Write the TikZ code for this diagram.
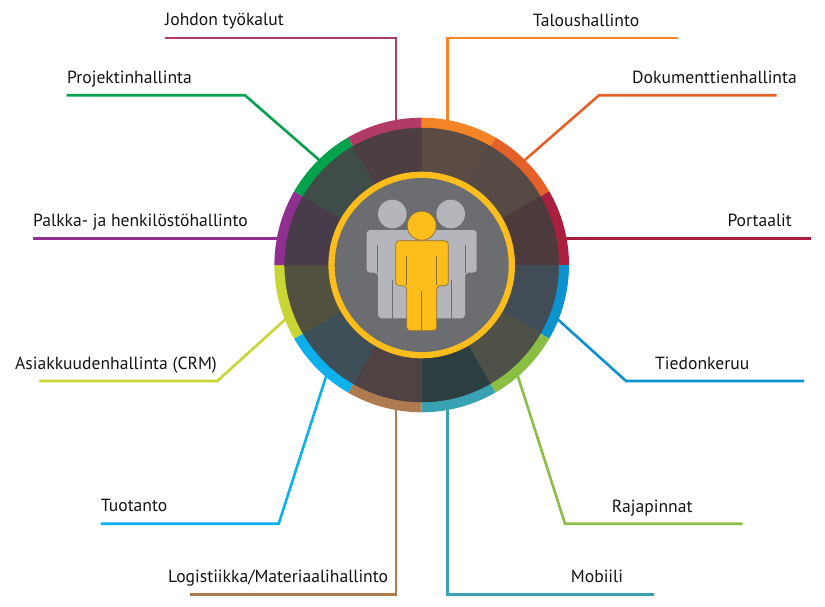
\documentclass[tikz,border=0pt]{standalone}
\usepackage{fontspec}
\setmainfont{PT Sans}
\definecolor{cJoh}{HTML}{B23A66}
\definecolor{cTal}{HTML}{F58426}
\definecolor{cDok}{HTML}{E4622A}
\definecolor{cPor}{HTML}{A91F40}
\definecolor{cTie}{HTML}{0B92CF}
\definecolor{cRaj}{HTML}{8ABF43}
\definecolor{cMob}{HTML}{3AA1B3}
\definecolor{cLog}{HTML}{AE7B50}
\definecolor{cTuo}{HTML}{0DB0EA}
\definecolor{cAsi}{HTML}{C9D532}
\definecolor{cPal}{HTML}{8F2F8F}
\definecolor{cPro}{HTML}{05A24E}
\definecolor{dJoh}{HTML}{4D3F41}
\definecolor{dTal}{HTML}{5A4C45}
\definecolor{dDok}{HTML}{564A45}
\definecolor{dPor}{HTML}{4D3A3C}
\definecolor{dTie}{HTML}{424C56}
\definecolor{dRaj}{HTML}{4E5148}
\definecolor{dMob}{HTML}{2D3E41}
\definecolor{dLog}{HTML}{4E4342}
\definecolor{dTuo}{HTML}{3E4F58}
\definecolor{dAsi}{HTML}{52503F}
\definecolor{dPal}{HTML}{483C4A}
\definecolor{dPro}{HTML}{404C47}
\definecolor{gold}{HTML}{FDBE1C}
\definecolor{goldline}{HTML}{8E7233}
\definecolor{discgrey}{HTML}{6C6D70}
\definecolor{backman}{HTML}{B5B6BB}
\tikzset{
  lead/.style={line width=2.6pt,line join=miter},
  lbl/.style={anchor=base west,inner sep=0pt,text=black!92,font=\fontsize{17.6}{20}\selectfont},
  manback/.style={fill=backman,rounded corners=3.5pt},
  slitback/.style={draw=discgrey,line width=1pt},
  manfront/.style={fill=gold,draw=goldline,line width=.7pt,rounded corners=3.5pt},
  slitfront/.style={draw=goldline,line width=.7pt},
}
\newcommand{\ringpiece}[3]{%
  \fill[#3] (#1:147.3pt) arc[start angle=#1,end angle=#2,radius=147.3pt] -- (#2:130pt) arc[start angle=#2,end angle=#1,radius=130pt] -- cycle;
}
\newcommand{\darkpiece}[3]{%
  \fill[#3,draw=#3,line width=.5pt] (0,0) -- (#1:137pt) arc[start angle=#1,end angle=#2,radius=137pt] -- cycle;
}
\begin{document}
\begin{tikzpicture}[x=1pt,y=-1pt]
\useasboundingbox (0,0) rectangle (825,607);
% labels
\node[lbl] (tJoh) at (165,26) {Johdon työkalut};
\node[lbl] (tTal) at (532.7,26.5) {Taloushallinto};
\node[lbl] (tDok) at (632,83.3) {Dokumenttienhallinta};
\node[lbl] (tPor) at (727.3,226.7) {Portaalit};
\node[lbl] (tTie) at (655,369) {Tiedonkeruu};
\node[lbl] (tRaj) at (611.7,512) {Rajapinnat};
\node[lbl] (tMob) at (570.7,582) {Mobiili};
\node[lbl] (tLog) at (168,582) {Logistiikka/Materiaalihallinto};
\node[lbl] (tTuo) at (100.7,511) {Tuotanto};
\node[lbl] (tAsi) at (15,369) {Asiakkuudenhallinta (CRM)};
\node[lbl] (tPal) at (33,226.7) {Palkka- ja henkilöstöhallinto};
\node[lbl] (tPro) at (67,83.3) {Projektinhallinta};
% connector ends
\coordinate (hub) at (421.7,265);
\coordinate (aJoh) at (165,38);   \coordinate (bJoh) at (396,38);    \coordinate (eJoh) at (396,125);
\coordinate (aTal) at (678,38);   \coordinate (bTal) at (447.5,38);  \coordinate (eTal) at (447.5,125);
\coordinate (aDok) at (776.7,95.3); \coordinate (bDok) at (599,95.3); \coordinate (eDok) at (522,162.5);
\coordinate (aPor) at (811,238.7); \coordinate (ePor) at (562,238.7);
\coordinate (aTie) at (804,381);  \coordinate (bTie) at (626,381);   \coordinate (eTie) at (554,316);
\coordinate (aRaj) at (742.5,523.7); \coordinate (bRaj) at (565,523.7); \coordinate (eRaj) at (516.5,372);
\coordinate (aMob) at (654,594.7); \coordinate (bMob) at (447.5,594.7); \coordinate (eMob) at (447.5,405);
\coordinate (aLog) at (190,594.7); \coordinate (bLog) at (396,594.7); \coordinate (eLog) at (396,405);
\coordinate (aTuo) at (100.7,523.7); \coordinate (bTuo) at (278.7,523.7); \coordinate (eTuo) at (327.5,372);
\coordinate (aAsi) at (39.3,381); \coordinate (bAsi) at (217.3,381); \coordinate (eAsi) at (289,316);
\coordinate (aPal) at (32.7,238.7); \coordinate (ePal) at (282,238.7);
\coordinate (aPro) at (66.7,95.3); \coordinate (bPro) at (245,95.3); \coordinate (ePro) at (322,162.5);
\draw[lead,cJoh] (aJoh) -- (bJoh) -- (eJoh);
\draw[lead,cTal] (aTal) -- (bTal) -- (eTal);
\draw[lead,cDok] (aDok) -- (bDok) -- (eDok);
\draw[lead,cPor] (aPor) -- (ePor);
\draw[lead,cTie] (aTie) -- (bTie) -- (eTie);
\draw[lead,cRaj] (aRaj) -- (bRaj) -- (eRaj);
\draw[lead,cMob] (aMob) -- (bMob) -- (eMob);
\draw[lead,cLog] (aLog) -- (bLog) -- (eLog);
\draw[lead,cTuo] (aTuo) -- (bTuo) -- (eTuo);
\draw[lead,cAsi] (aAsi) -- (bAsi) -- (eAsi);
\draw[lead,cPal] (aPal) -- (ePal);
\draw[lead,cPro] (aPro) -- (bPro) -- (ePro);
% disc
\begin{scope}[shift={(hub)},x=1pt,y=1pt]
  \ringpiece{60}{90}{cTal}
  \ringpiece{30}{60}{cDok}
  \ringpiece{0}{30}{cPor}
  \ringpiece{-30}{0}{cTie}
  \ringpiece{-60}{-30}{cRaj}
  \ringpiece{-90}{-60}{cMob}
  \ringpiece{-120}{-90}{cLog}
  \ringpiece{-150}{-120}{cTuo}
  \ringpiece{-180}{-150}{cAsi}
  \ringpiece{150}{180}{cPal}
  \ringpiece{120}{150}{cPro}
  \ringpiece{90}{120}{cJoh}
  \darkpiece{60}{90}{dTal}
  \darkpiece{30}{60}{dDok}
  \darkpiece{0}{30}{dPor}
  \darkpiece{-30}{0}{dTie}
  \darkpiece{-60}{-30}{dRaj}
  \darkpiece{-90}{-60}{dMob}
  \darkpiece{-120}{-90}{dLog}
  \darkpiece{-150}{-120}{dTuo}
  \darkpiece{-180}{-150}{dAsi}
  \darkpiece{150}{180}{dPal}
  \darkpiece{120}{150}{dPro}
  \darkpiece{90}{120}{dJoh}
  \fill[gold] (0,0) circle[radius=93.3pt];
  \fill[discgrey] (0,0) circle[radius=87pt];
\end{scope}
% back figures
\fill[backman] (392.3,214) circle[radius=14.3pt];
\fill[backman] (450.7,214) circle[radius=14.3pt];
\fill[manback] (366.7,230) -- (424,230) -- (424,318.3) -- (378,318.3) -- (378,272.7) -- (366.7,272.7) -- cycle;
\fill[manback] (476.7,230) -- (419,230) -- (419,318.3) -- (465,318.3) -- (465,272.7) -- (476.7,272.7) -- cycle;
\draw[slitback] (377.3,245) -- (377.3,273);
\draw[slitback] (465.7,245) -- (465.7,273);
\draw[slitback] (392.3,280) -- (392.3,319);
\draw[slitback] (451,280) -- (451,319);
% front figure
\fill[gold,draw=goldline,line width=.7pt] (421.7,225.7) circle[radius=14.5pt];
\path[manfront] (395.7,240.7) -- (448.3,240.7) -- (448.3,285.7) -- (436.7,285.7) -- (436.7,330.7) -- (406.7,330.7) -- (406.7,285.7) -- (395.7,285.7) -- cycle;
\draw[slitfront] (406.7,256) -- (406.7,285);
\draw[slitfront] (436.7,256) -- (436.7,285);
\draw[slitfront] (421.7,291) -- (421.7,330);
\end{tikzpicture}
\end{document}
